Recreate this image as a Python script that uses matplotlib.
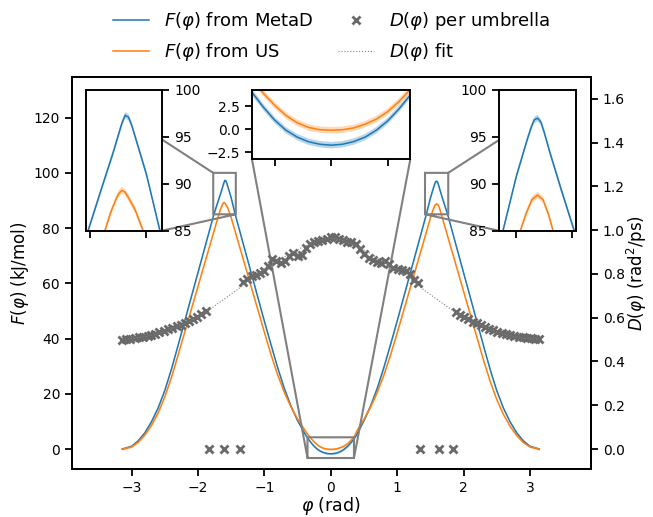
import matplotlib
matplotlib.use('Agg')
import matplotlib.pyplot as plt
from matplotlib.ticker import MultipleLocator

plt.rcParams['font.family'] = ['DejaVu Sans']
plt.rcParams['font.size'] = 12
plt.rcParams['axes.linewidth'] = 1.4
for a in ('xtick', 'ytick'):
    plt.rcParams[a + '.major.size'] = 5
    plt.rcParams[a + '.major.width'] = 1.3
    plt.rcParams[a + '.labelsize'] = 10

# free energy from metadynamics (kJ/mol)
phi_metad = [-3.1416, -3.0, -2.9, -2.8, -2.7, -2.6, -2.5, -2.4, -2.3, -2.2, -2.1, -2.0, -1.9, -1.8,
             -1.76, -1.7, -1.65, -1.625, -1.61, -1.595, -1.58, -1.565, -1.55, -1.5, -1.44,
             -1.4, -1.3, -1.2, -1.1, -1.0, -0.9, -0.8, -0.7, -0.6, -0.5, -0.4,
             -0.35, -0.3, -0.25, -0.2, -0.15, -0.1, -0.05, 0.0, 0.05, 0.1, 0.15, 0.2, 0.25, 0.3, 0.35,
             0.4, 0.5, 0.6, 0.7, 0.8, 0.9, 1.0, 1.1, 1.2, 1.3, 1.4,
             1.44, 1.5, 1.55, 1.565, 1.58, 1.595, 1.61, 1.625, 1.65, 1.7, 1.76,
             1.8, 1.9, 2.0, 2.1, 2.2, 2.3, 2.4, 2.5, 2.6, 2.7, 2.8, 2.9, 3.0, 3.1416]
f_metad = [0.0, 1.0, 3.0, 5.9, 9.9, 14.9, 21.2, 28.9, 37.5, 46.3, 55.1, 63.9, 72.7, 81.5,
           85.0, 89.5, 93.2, 95.2, 96.4, 97.3, 97.1, 96.2, 95.0, 91.0, 85.0,
           81.5, 72.7, 63.9, 55.1, 46.3, 37.8, 29.5, 22.0, 15.6, 10.3, 6.0,
           4.0, 2.4, 1.0, -0.1, -0.85, -1.35, -1.62, -1.72, -1.62, -1.33, -0.85, -0.1, 0.9, 2.2, 3.7,
           5.6, 10.3, 15.6, 22.0, 29.5, 37.8, 46.3, 55.1, 63.9, 72.7, 81.5,
           85.0, 90.8, 94.8, 95.9, 96.8, 97.0, 96.6, 95.5, 93.4, 89.5, 85.0,
           81.5, 72.7, 63.9, 55.1, 46.3, 37.5, 28.9, 21.2, 14.9, 9.9, 5.9, 3.0, 1.0, 0.0]

# free energy from umbrella sampling (kJ/mol)
phi_us = [-3.1416, -3.0, -2.9, -2.8, -2.7, -2.6, -2.5, -2.4, -2.3, -2.2, -2.1, -2.0, -1.9, -1.8,
          -1.7, -1.685, -1.66, -1.635, -1.625, -1.61, -1.595, -1.575, -1.55, -1.515, -1.5,
          -1.4, -1.3, -1.2, -1.1, -1.0, -0.9, -0.8, -0.7, -0.6, -0.5, -0.4,
          -0.35, -0.3, -0.25, -0.2, -0.15, -0.1, -0.05, 0.0, 0.05, 0.1, 0.15, 0.2, 0.25, 0.3, 0.35,
          0.4, 0.5, 0.6, 0.7, 0.8, 0.9, 1.0, 1.1, 1.2, 1.3, 1.4,
          1.5, 1.518, 1.545, 1.57, 1.595, 1.62, 1.645, 1.665, 1.7,
          1.8, 1.9, 2.0, 2.1, 2.2, 2.3, 2.4, 2.5, 2.6, 2.7, 2.8, 2.9, 3.0, 3.1416]
f_us = [0.0, 0.8, 2.5, 5.1, 8.6, 13.1, 18.9, 25.9, 34.0, 42.3, 50.6, 58.9, 67.2, 75.5,
        83.8, 85.0, 86.9, 88.4, 88.9, 89.3, 89.1, 88.3, 87.2, 85.0, 83.8,
        75.5, 67.2, 58.9, 50.6, 42.3, 34.2, 26.9, 20.6, 15.3, 10.9, 7.2,
        5.4, 3.9, 2.6, 1.5, 0.7, 0.2, -0.05, -0.1, -0.05, 0.15, 0.55, 1.1, 1.9, 3.0, 4.3,
        6.8, 10.7, 15.2, 20.5, 26.8, 34.0, 42.0, 50.3, 58.6, 66.9, 75.2,
        83.6, 85.0, 86.9, 88.3, 88.8, 88.3, 86.7, 85.0, 82.1,
        73.8, 65.5, 57.2, 48.9, 40.6, 32.3, 24.6, 18.0, 12.6, 8.3, 4.9, 2.4, 0.8, 0.0]
f_err = 0.35

# diffusion coefficient per umbrella window (rad^2/ps)
phi_umb = [-3.14, -3.08, -3.02, -2.95, -2.89, -2.83, -2.76, -2.70, -2.64, -2.58, -2.51,
           -2.45, -2.39, -2.32, -2.26, -2.20, -2.14, -2.07, -2.01, -1.95, -1.88,
           -1.835, -1.61, -1.37,
           -1.32, -1.26, -1.19, -1.13, -1.07, -1.01, -0.94, -0.88, -0.82, -0.75, -0.69,
           -0.63, -0.57, -0.50, -0.44, -0.38, -0.31, -0.25, -0.19, -0.13, -0.06, 0.00,
           0.06, 0.13, 0.19, 0.25, 0.31, 0.38, 0.44, 0.50, 0.57, 0.63, 0.69,
           0.75, 0.82, 0.88, 0.94, 1.01, 1.07, 1.13, 1.19, 1.26, 1.32,
           1.35, 1.63, 1.845,
           1.88, 1.95, 2.01, 2.07, 2.14, 2.20, 2.26, 2.32, 2.39, 2.45, 2.51,
           2.58, 2.64, 2.70, 2.76, 2.83, 2.89, 2.95, 3.02, 3.08, 3.14]
d_umb = [0.500, 0.503, 0.505, 0.508, 0.511, 0.513, 0.517, 0.522, 0.527, 0.534, 0.540,
         0.547, 0.553, 0.562, 0.567, 0.575, 0.583, 0.594, 0.603, 0.618, 0.630,
         0.0, 0.0, 0.0,
         0.765, 0.778, 0.790, 0.797, 0.806, 0.815, 0.838, 0.868, 0.860, 0.852, 0.858,
         0.880, 0.896, 0.884, 0.888, 0.920, 0.935, 0.944, 0.950, 0.955, 0.958, 0.968,
         0.970, 0.962, 0.955, 0.948, 0.944, 0.938, 0.915, 0.893, 0.875, 0.866, 0.856,
         0.852, 0.860, 0.845, 0.826, 0.822, 0.818, 0.812, 0.800, 0.772, 0.760,
         0.0, 0.0, 0.0,
         0.628, 0.612, 0.602, 0.592, 0.580, 0.574, 0.566, 0.558, 0.550, 0.543, 0.536,
         0.530, 0.525, 0.520, 0.516, 0.513, 0.510, 0.508, 0.506, 0.504, 0.502]

phi_fit = [-3.1416, -2.8, -2.5, -2.2, -2.0, -1.8, -1.6, -1.4, -1.2, -1.0, -0.8, -0.6, -0.4, -0.2,
           0.0, 0.2, 0.4, 0.6, 0.8, 1.0, 1.2, 1.4, 1.6, 1.8, 2.0, 2.2, 2.5, 2.8, 3.1416]
d_fit = [0.500, 0.512, 0.537, 0.573, 0.603, 0.643, 0.686, 0.730, 0.778, 0.821, 0.860, 0.895, 0.926, 0.952,
         0.965, 0.952, 0.926, 0.893, 0.857, 0.818, 0.776, 0.728, 0.684, 0.641, 0.602, 0.572, 0.536, 0.511, 0.500]


def draw_profiles(a, lw=1.1):
    a.fill_between(phi_metad, [f - f_err for f in f_metad], [f + f_err for f in f_metad],
                   color='C0', alpha=0.3, lw=0)
    a.fill_between(phi_us, [f - f_err for f in f_us], [f + f_err for f in f_us],
                   color='C1', alpha=0.3, lw=0)
    l1, = a.plot(phi_metad, f_metad, color='C0', lw=lw, label=r'$F(\varphi)$ from MetaD')
    l2, = a.plot(phi_us, f_us, color='C1', lw=lw, label=r'$F(\varphi)$ from US')
    return l1, l2


fig = plt.figure(figsize=(6.53, 5.17), dpi=100)
ax = fig.add_subplot(111)
fig.subplots_adjust(left=0.110, right=0.905, bottom=0.093, top=0.851)

l1, l2 = draw_profiles(ax)
ax.set_xlim(-3.9, 3.92)
ax.set_ylim(-7.2, 134.7)
ax.set_xlabel(r'$\varphi$ (rad)', labelpad=0, fontsize=12.5)
ax.set_ylabel(r'$F(\varphi)$ (kJ/mol)', labelpad=2)

ax2 = ax.twinx()
l3, = ax2.plot(phi_umb, d_umb, 'x', color='dimgray', ms=6, mew=2, label=r'$D(\varphi)$ per umbrella')
l4, = ax2.plot(phi_fit, d_fit, ':', color='gray', lw=0.8, label=r'$D(\varphi)$ fit')
ax2.set_ylim(-0.091, 1.70)
ax2.yaxis.set_major_locator(MultipleLocator(0.2))
ax2.set_ylabel(r'$D(\varphi)$ (rad$^2$/ps)', labelpad=0)

# zoomed views of the two barriers and the minimum
insets = [
    ([0.027, 0.608, 0.147, 0.359], (-1.77, -1.43), (85, 100), [-1.75, -1.5], [85, 90, 95, 100], 'right'),
    ([0.347, 0.790, 0.305, 0.177], (-0.35, 0.35), (-3.25, 4.25), [-0.25, 0, 0.25], [-2.5, 0, 2.5], 'left'),
    ([0.822, 0.608, 0.150, 0.359], (1.42, 1.77), (85, 100), [1.5, 1.75], [85, 90, 95, 100], 'left'),
]
for bounds, xl, yl, xt, yt, side in insets:
    axins = ax.inset_axes(bounds)
    draw_profiles(axins)
    axins.set_xlim(*xl)
    axins.set_ylim(*yl)
    axins.set_xticks(xt)
    axins.set_xticklabels([])
    axins.set_yticks(yt)
    if side == 'right':
        axins.yaxis.tick_right()
    ax.indicate_inset_zoom(axins, edgecolor='gray', alpha=1, linewidth=1.5)

fig.legend([l1, l2, l3, l4], [h.get_label() for h in (l1, l2, l3, l4)],
           loc='lower center', bbox_to_anchor=(0.508, 0.846), ncol=2, frameon=False,
           fontsize=13, labelspacing=0.5, columnspacing=1.4, handlelength=2.0)

fig.savefig('out.png', dpi=100)
